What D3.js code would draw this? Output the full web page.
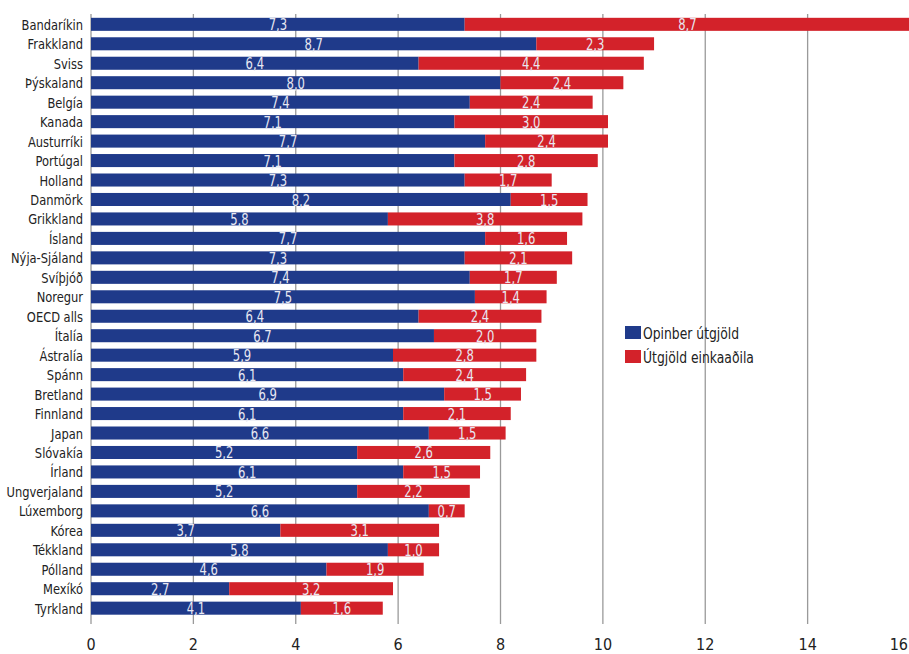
<!DOCTYPE html>
<html>
<head>
<meta charset="utf-8">
<script src="https://cdn.jsdelivr.net/npm/d3@7"></script>
<style>
  body { margin: 0; background: #fff; }
  svg text { font-family: "Liberation Sans Narrow", "DejaVu Sans Condensed", "Open Sans", sans-serif; font-stretch: condensed; }
</style>
</head>
<body>
<div id="graph"></div>
<script>
// Data
var countries = ["Bandaríkin", "Frakkland", "Sviss", "Þýskaland", "Belgía", "Kanada",
    "Austurríki", "Portúgal", "Holland", "Danmörk", "Grikkland", "Ísland", "Nýja-Sjáland",
    "Svíþjóð", "Noregur", "OECD alls", "Ítalía", "Ástralía", "Spánn", "Bretland",
    "Finnland", "Japan", "Slóvakía", "Írland", "Ungverjaland", "Lúxemborg", "Kórea",
    "Tékkland", "Pólland", "Mexíkó", "Tyrkland"];
var publicSpend = [7.3, 8.7, 6.4, 8.0, 7.4, 7.1, 7.7, 7.1, 7.3, 8.2, 5.8, 7.7, 7.3,
    7.4, 7.5, 6.4, 6.7, 5.9, 6.1, 6.9, 6.1, 6.6, 5.2, 6.1, 5.2, 6.6, 3.7, 5.8, 4.6, 2.7, 4.1];
var privateSpend = [8.7, 2.3, 4.4, 2.4, 2.4, 3.0, 2.4, 2.8, 1.7, 1.5, 3.8, 1.6, 2.1,
    1.7, 1.4, 2.4, 2.0, 2.8, 2.4, 1.5, 2.1, 1.5, 2.6, 1.5, 2.2, 0.7, 3.1, 1.0, 1.9, 3.2, 1.6];
var seriesNames = ["Opinber útgjöld", "Útgjöld einkaaðila"];
var xTicks = [0, 2, 4, 6, 8, 10, 12, 14, 16];

var colors = ["#1f3a8a", "#d3222a"];

var width = 909, height = 654;
var x = d3.scaleLinear().domain([0, 16]).range([91, 910]);
var y = d3.scaleBand().domain(countries).range([14.5, 618]).paddingInner(0.33).paddingOuter(0.17);

var svg = d3.select("#graph").append("svg")
    .attr("width", width)
    .attr("height", height);

// Grid lines
svg.append("g").selectAll("line")
    .data(xTicks)
    .enter().append("line")
    .attr("x1", function(d) { return x(d); })
    .attr("x2", function(d) { return x(d); })
    .attr("y1", 14)
    .attr("y2", 624)
    .attr("stroke", "#9a9a9a")
    .attr("stroke-width", 1.3);

// Tick labels (last one kept inside the window)
svg.append("g").selectAll("text")
    .data(xTicks)
    .enter().append("text")
    .attr("x", function(d, i) { return i === xTicks.length - 1 ? 908 : x(d); })
    .attr("y", 650)
    .attr("text-anchor", function(d, i) { return i === xTicks.length - 1 ? "end" : "middle"; })
    .attr("font-size", 16)
    .attr("fill", "#222")
    .text(function(d) { return d; });

// Build stacked rows
var rows = countries.map(function(c, i) {
    return { country: c, segs: [
        { s: 0, x0: 0, x1: publicSpend[i], v: publicSpend[i] },
        { s: 1, x0: publicSpend[i], x1: publicSpend[i] + privateSpend[i], v: privateSpend[i] }
    ] };
});

var row = svg.append("g").selectAll("g")
    .data(rows)
    .enter().append("g")
    .attr("transform", function(d) { return "translate(0," + y(d.country) + ")"; });

row.selectAll("rect")
    .data(function(d) { return d.segs; })
    .enter().append("rect")
    .attr("x", function(d) { return x(d.x0); })
    .attr("width", function(d) { return x(d.x1) - x(d.x0); })
    .attr("y", 0)
    .attr("height", y.bandwidth())
    .attr("fill", function(d) { return colors[d.s]; });

// Value labels, centred in each segment
row.selectAll("text.val")
    .data(function(d) { return d.segs; })
    .enter().append("text")
    .attr("class", "val")
    .attr("transform", function(d) {
        return "translate(" + (x(d.x0) + x(d.x1)) / 2 + "," + (y.bandwidth() - 0.5) + ") scale(0.86,1)";
    })
    .attr("text-anchor", "middle")
    .attr("font-size", 15)
    .attr("fill", "#e8e8f2")
    .text(function(d) { return d.v.toFixed(1).replace(".", ","); });

// Category labels, squeezed a little to mimic the narrow face
row.append("text")
    .attr("transform", "translate(83,0) scale(0.88,1)")
    .attr("y", y.bandwidth() / 2)
    .attr("dy", "0.38em")
    .attr("text-anchor", "end")
    .attr("font-size", 14.5)
    .attr("fill", "#222")
    .text(function(d) { return d.country; });

// Legend
var legend = svg.append("g").selectAll("g")
    .data(seriesNames)
    .enter().append("g")
    .attr("transform", function(d, i) { return "translate(625," + (326 + i * 24) + ")"; });

legend.append("rect")
    .attr("width", 16)
    .attr("height", 13)
    .attr("fill", function(d, i) { return colors[i]; });

legend.append("text")
    .attr("transform", "translate(18,13) scale(0.86,1)")
    .attr("font-size", 16)
    .attr("fill", "#222")
    .text(function(d) { return d; });
</script>
</body>
</html>
